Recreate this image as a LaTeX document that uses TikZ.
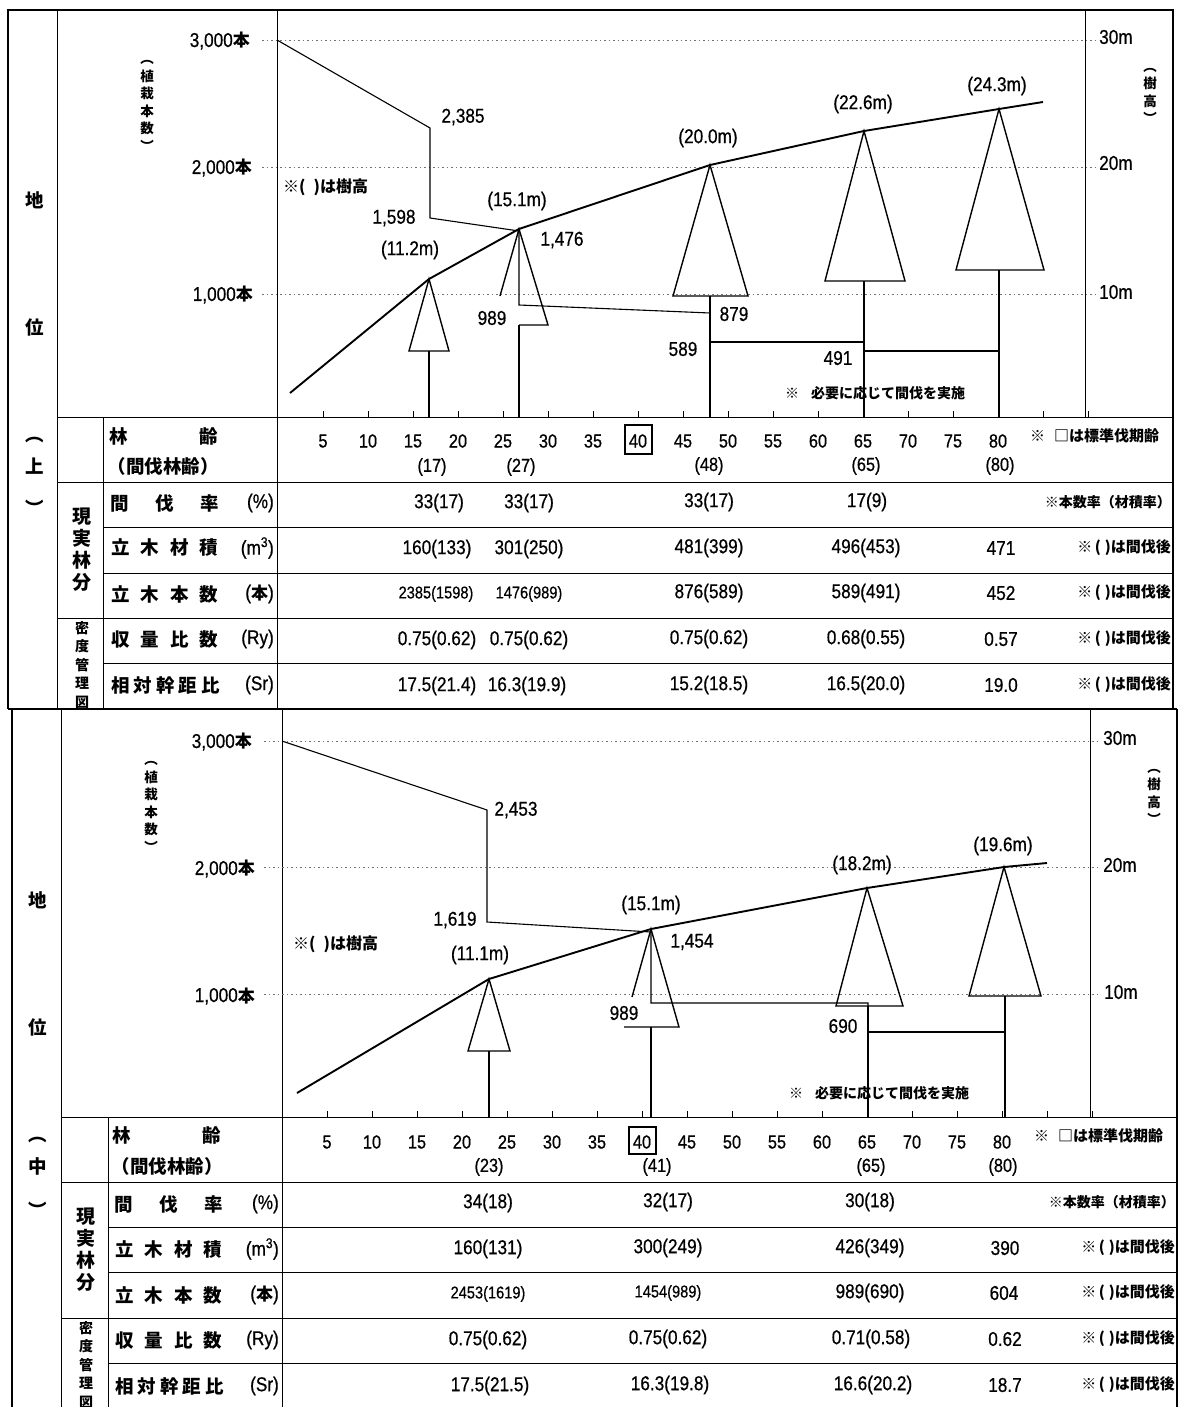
\documentclass[tikz,border=0pt]{standalone}
\usepackage{fontspec}
\setmainfont{Liberation Sans}
\newfontfamily\numf{Liberation Sans}[FakeStretch=0.86, FakeBold=0.6]
\newfontfamily\jp{Noto Sans CJK JP}
\newcommand\hon{{\jp\bfseries\fontsize{17}{17}\selectfont 本}}
\begin{document}
\begin{tikzpicture}[x=1pt,y=-1pt,
  lbl/.style={inner sep=0pt, font=\numf\fontsize{20}{20}\selectfont},
  tv/.style={inner sep=0pt, font=\numf\fontsize{20}{20}\selectfont},
  tvs/.style={inner sep=0pt, font=\numf\fontsize{17}{17}\selectfont},
  age/.style={inner sep=0pt, font=\numf\fontsize{19}{19}\selectfont},
  jpt/.style={inner sep=0pt, font=\jp\bfseries\fontsize{18.5}{18.5}\selectfont},
  jpn/.style={inner sep=0pt, font=\jp\bfseries\fontsize{15}{15}\selectfont},
  jpm/.style={inner sep=0pt, font=\jp\bfseries\fontsize{16}{16}\selectfont},
  jps/.style={inner sep=0pt, font=\jp\bfseries\fontsize{14}{14}\selectfont},
  vert/.style={inner sep=0pt, align=center, font=\jp\bfseries\fontsize{13.5}{17.5}\selectfont},
  vgrp/.style={inner sep=0pt, align=center, font=\jp\bfseries\fontsize{19}{22}\selectfont},
  vgrps/.style={inner sep=0pt, align=center, font=\jp\bfseries\fontsize{14}{18.5}\selectfont},
  gridl/.style={black!55, line width=0.7pt, dash pattern=on 1.5pt off 3pt},
  frame/.style={line width=2.2pt},
  rule/.style={line width=0.9pt},
  hcurve/.style={line width=1.9pt, line join=round},
  dens/.style={line width=1.1pt, line join=miter},
  tree/.style={line width=1.4pt, line join=miter},
]
\fill[white] (0,0) rectangle (1182,1407);
\useasboundingbox (0,0) rectangle (1182,1407);

% ================= frame =================
\draw[frame] (8,10) -- (1173,10);
\draw[frame] (8,9) -- (8,709);
\draw[frame] (1173,9) -- (1173,709);
\draw[frame] (8,709) -- (1177,709);
\draw[frame] (12,709) -- (12,1407);
\draw[frame] (1177,709) -- (1177,1407);

% ================= UPPER SECTION =================
\draw[rule] (57,10) -- (57,708);
\draw[rule] (277,10) -- (277,708);
\draw[rule] (1085,10) -- (1085,417);
\draw[rule] (57,417) -- (1173,417);
\draw[rule] (57,482) -- (1173,482);
\draw[rule] (103,417) -- (103,708);
\draw[rule] (103,527) -- (1173,527);
\draw[rule] (103,573) -- (1173,573);
\draw[rule] (57,618) -- (1173,618);
\draw[rule] (103,663) -- (1173,663);

\foreach \yy in {40,167,294} \draw[gridl] (262,\yy) -- (1097,\yy);
\foreach \k in {1,...,18} \draw[rule] ({278+45*\k},417) -- ++(0,-6);

\node[lbl, anchor=east] (u3000) at (250,41) {3,000\hon};
\node[lbl, anchor=east] (u2000) at (252,168) {2,000\hon};
\node[lbl, anchor=east] (u1000) at (253,295) {1,000\hon};
\node[lbl, anchor=west] (u30m) at (1099,37) {30m};
\node[lbl, anchor=west] (u20m) at (1099,163) {20m};
\node[lbl, anchor=west] (u10m) at (1099,292) {10m};
\node[vert] (uvl) at (147,106) {︵\\植\\栽\\本\\数\\︶};
\node[vert] (uvr) at (1150,96) {︵\\樹\\高\\︶};

\node[jpt] (uchi) at (35,200) {地};
\node[jpt] (ui) at (35,327) {位};
\node[jpt] (up1) at (35,440) {︵};
\node[jpt] (uue) at (35,466) {上};
\node[jpt] (up2) at (35,508) {︶};

\coordinate (uh0) at (290,393);
\coordinate (ua17) at (429,279);
\coordinate (ua27) at (519,229);
\coordinate (ua48) at (710,165);
\coordinate (ua65) at (864,131);
\coordinate (ua80) at (999,109);
\coordinate (uh1) at (1043,102);
\draw[hcurve] (uh0) -- (ua17) -- (ua27) -- (ua48) -- (ua65) -- (ua80) -- (uh1);

\draw[tree] (ua17) -- (409,351) -- (449,351) -- cycle;
\draw[tree] (429,351) -- (429,417);
\draw[tree] (500,296) -- (ua27) -- (548,325) -- (519,325);
\draw[tree] (519,325) -- (519,417);
\draw[tree] (ua48) -- (673,296) -- (748,296) -- cycle;
\draw[tree] (710,296) -- (710,417);
\draw[tree] (ua65) -- (825,281) -- (905,281) -- cycle;
\draw[tree] (864,281) -- (864,417);
\draw[tree] (ua80) -- (956,270) -- (1044,270) -- cycle;
\draw[tree] (999,270) -- (999,417);

\coordinate (ud0) at (277,40);
\draw[dens] (ud0) -- (430,128) -- (430,218) -- (519,231) -- (519,305) -- (710,313);
\draw[dens] (710,342) -- (864,342);
\draw[dens] (864,351) -- (999,351);

\node[lbl] (u2385) at (463,117) {2,385};
\node[lbl] (u1598) at (394,218) {1,598};
\node[lbl] (u112) at (410,250) {(11.2m)};
\node[lbl] (u151) at (517,201) {(15.1m)};
\node[lbl] (u1476) at (562,240) {1,476};
\node[lbl] (u989) at (492,318) {989};
\node[lbl] (u879) at (734,314) {879};
\node[lbl] (u589) at (683,349) {589};
\node[lbl] (u491) at (838,358) {491};
\node[lbl] (u200) at (708,138) {(20.0m)};
\node[lbl] (u226) at (863,104) {(22.6m)};
\node[lbl] (u243) at (997,86) {(24.3m)};
\node[jpm, anchor=west] (unote1) at (283,187) {※(\hspace{8pt})は樹高};
\node[jps] (unote2) at (875,393) {※\hspace{12pt}必要に応じて間伐を実施};

\node[jpt] (urin) at (119,436) {林};
\node[jpt] (urei) at (209,436) {齢};
\node[jpt] (ukan) at (163,466) {（間伐林齢）};
\foreach \a [count=\i] in {5,10,...,80} \node[age] (uag\i) at ({278+9*\a},441) {\a};
\draw[line width=1.5pt] (625,425) rectangle (652,454);
\node[age] (uag17) at (432,467) {(17)};
\node[age] (uag27) at (521,467) {(27)};
\node[age] (uag48) at (709,466) {(48)};
\node[age] (uag65) at (866,466) {(65)};
\node[age] (uag80) at (1000,466) {(80)};
\node[jpn, anchor=west] (ustd) at (1030,436) {※\hspace{9pt}□は標準伐期齢};

\node[jpt, anchor=west] (ul2) at (110,503) {間\hspace{27pt}伐\hspace{26pt}率};
\node[lbl, anchor=east] (ul2u) at (274,503) {(\%)};
\node[jpt, anchor=west] (ul3) at (111,548) {立\hspace{11pt}木\hspace{11pt}材\hspace{11pt}積};
\node[lbl, anchor=east] (ul3u) at (274,548) {(m\textsuperscript{3})};
\node[jpt, anchor=west] (ul4) at (111,594) {立\hspace{11pt}木\hspace{11pt}本\hspace{11pt}数};
\node[lbl, anchor=east] (ul4u) at (274,594) {(\hon)};
\node[jpt, anchor=west] (ul5) at (111,639) {収\hspace{11pt}量\hspace{11pt}比\hspace{11pt}数};
\node[lbl, anchor=east] (ul5u) at (274,639) {(Ry)};
\node[jpt, anchor=west] (ul6) at (111,685) {相\hspace{4pt}対\hspace{4pt}幹\hspace{4pt}距\hspace{4pt}比};
\node[lbl, anchor=east] (ul6u) at (274,685) {(Sr)};
\node[vgrp] (ugrp1) at (82,550) {現\\実\\林\\分};
\node[vgrps] (ugrp2) at (82,665) {密\\度\\管\\理\\図};

\node[tv] (ur2a) at (439,503) {33(17)};
\node[tv] (ur2b) at (529,503) {33(17)};
\node[tv] (ur2c) at (709,502) {33(17)};
\node[tv] (ur2d) at (867,502) {17(9)};
\node[jps, anchor=east] (ur2n) at (1171,502) {※本数率（材積率）};

\node[tv] (ur3a) at (437,549) {160(133)};
\node[tv] (ur3b) at (529,549) {301(250)};
\node[tv] (ur3c) at (709,548) {481(399)};
\node[tv] (ur3d) at (866,548) {496(453)};
\node[tv] (ur3e) at (1001,548) {471};
\node[jpn, anchor=east] (ur3n) at (1171,548) {※\,(\hspace{4pt})は間伐後};

\node[tvs] (ur4a) at (436,594) {2385(1598)};
\node[tvs] (ur4b) at (529,594) {1476(989)};
\node[tv] (ur4c) at (709,593) {876(589)};
\node[tv] (ur4d) at (866,593) {589(491)};
\node[tv] (ur4e) at (1001,593) {452};
\node[jpn, anchor=east] (ur4n) at (1171,593) {※\,(\hspace{4pt})は間伐後};

\node[tv] (ur5a) at (437,640) {0.75(0.62)};
\node[tv] (ur5b) at (529,640) {0.75(0.62)};
\node[tv] (ur5c) at (709,639) {0.75(0.62)};
\node[tv] (ur5d) at (866,639) {0.68(0.55)};
\node[tv] (ur5e) at (1001,639) {0.57};
\node[jpn, anchor=east] (ur5n) at (1171,639) {※\,(\hspace{4pt})は間伐後};

\node[tv] (ur6a) at (437,686) {17.5(21.4)};
\node[tv] (ur6b) at (527,686) {16.3(19.9)};
\node[tv] (ur6c) at (709,685) {15.2(18.5)};
\node[tv] (ur6d) at (866,685) {16.5(20.0)};
\node[tv] (ur6e) at (1001,685) {19.0};
\node[jpn, anchor=east] (ur6n) at (1171,685) {※\,(\hspace{4pt})は間伐後};

% ================= LOWER SECTION =================
\draw[rule] (61,709) -- (61,1407);
\draw[rule] (282,709) -- (282,1407);
\draw[rule] (1090,709) -- (1090,1117);
\draw[rule] (61,1117) -- (1177,1117);
\draw[rule] (61,1182) -- (1177,1182);
\draw[rule] (108,1117) -- (108,1407);
\draw[rule] (108,1227) -- (1177,1227);
\draw[rule] (108,1272) -- (1177,1272);
\draw[rule] (61,1318) -- (1177,1318);
\draw[rule] (108,1363) -- (1177,1363);

\foreach \yy in {741,867,994} \draw[gridl] (264,\yy) -- (1101,\yy);
\foreach \k in {1,...,18} \draw[rule] ({282+45*\k},1117) -- ++(0,-6);

\node[lbl, anchor=east] (l3000) at (252,742) {3,000\hon};
\node[lbl, anchor=east] (l2000) at (255,869) {2,000\hon};
\node[lbl, anchor=east] (l1000) at (255,996) {1,000\hon};
\node[lbl, anchor=west] (l30m) at (1103,738) {30m};
\node[lbl, anchor=west] (l20m) at (1103,865) {20m};
\node[lbl, anchor=west] (l10m) at (1104,992) {10m};
\node[vert] (lvl) at (151,807) {︵\\植\\栽\\本\\数\\︶};
\node[vert] (lvr) at (1154,797) {︵\\樹\\高\\︶};

\node[jpt] (lchi) at (38,900) {地};
\node[jpt] (li) at (38,1027) {位};
\node[jpt] (lp1) at (38,1140) {︵};
\node[jpt] (lnaka) at (38,1166) {中};
\node[jpt] (lp2) at (38,1210) {︶};

\coordinate (lh0) at (297,1093);
\coordinate (la23) at (489,979);
\coordinate (la41) at (651,929);
\coordinate (la65) at (867,888);
\coordinate (la80) at (1004,867);
\coordinate (lh1) at (1047,863);
\draw[hcurve] (lh0) -- (la23) -- (la41) -- (la65) -- (la80) -- (lh1);

\draw[tree] (la23) -- (468,1051) -- (510,1051) -- cycle;
\draw[tree] (489,1051) -- (489,1117);
\draw[tree] (632,997) -- (la41) -- (679,1027) -- (624,1027);
\draw[tree] (651,1027) -- (651,1117);
\draw[tree] (la65) -- (836,1006) -- (903,1006) -- cycle;
\draw[tree] (868,1006) -- (868,1117);
\draw[tree] (la80) -- (969,996) -- (1041,996) -- cycle;
\draw[tree] (1005,996) -- (1005,1117);

\coordinate (ld0) at (282,741);
\draw[dens] (ld0) -- (487,810) -- (487,922) -- (651,932) -- (651,1003) -- (868,1003) -- (868,1006);
\draw[dens] (868,1032) -- (1005,1032);

\node[lbl] (l2453) at (516,810) {2,453};
\node[lbl] (l1619) at (455,920) {1,619};
\node[lbl] (l111) at (480,955) {(11.1m)};
\node[lbl] (l151) at (651,905) {(15.1m)};
\node[lbl] (l1454) at (692,942) {1,454};
\node[lbl] (l989) at (624,1013) {989};
\node[lbl] (l690) at (843,1026) {690};
\node[lbl] (l182) at (862,865) {(18.2m)};
\node[lbl] (l196) at (1003,846) {(19.6m)};
\node[jpm, anchor=west] (lnote1) at (293,944) {※(\hspace{8pt})は樹高};
\node[jps] (lnote2) at (879,1093) {※\hspace{12pt}必要に応じて間伐を実施};

\node[jpt] (lrin) at (122,1135) {林};
\node[jpt] (lrei) at (212,1135) {齢};
\node[jpt] (lkan) at (167,1166) {（間伐林齢）};
\foreach \a [count=\i] in {5,10,...,80} \node[age] (lag\i) at ({282+9*\a},1142) {\a};
\draw[line width=1.5pt] (629,1127) rectangle (656,1154);
\node[age] (lag23) at (489,1167) {(23)};
\node[age] (lag41) at (657,1167) {(41)};
\node[age] (lag65) at (871,1167) {(65)};
\node[age] (lag80) at (1003,1167) {(80)};
\node[jpn, anchor=west] (lstd) at (1034,1136) {※\hspace{9pt}□は標準伐期齢};

\node[jpt, anchor=west] (ll2) at (114,1204) {間\hspace{27pt}伐\hspace{26pt}率};
\node[lbl, anchor=east] (ll2u) at (279,1204) {(\%)};
\node[jpt, anchor=west] (ll3) at (115,1249) {立\hspace{11pt}木\hspace{11pt}材\hspace{11pt}積};
\node[lbl, anchor=east] (ll3u) at (279,1249) {(m\textsuperscript{3})};
\node[jpt, anchor=west] (ll4) at (115,1295) {立\hspace{11pt}木\hspace{11pt}本\hspace{11pt}数};
\node[lbl, anchor=east] (ll4u) at (279,1295) {(\hon)};
\node[jpt, anchor=west] (ll5) at (115,1340) {収\hspace{11pt}量\hspace{11pt}比\hspace{11pt}数};
\node[lbl, anchor=east] (ll5u) at (279,1340) {(Ry)};
\node[jpt, anchor=west] (ll6) at (115,1386) {相\hspace{4pt}対\hspace{4pt}幹\hspace{4pt}距\hspace{4pt}比};
\node[lbl, anchor=east] (ll6u) at (279,1386) {(Sr)};
\node[vgrp] (lgrp1) at (86,1250) {現\\実\\林\\分};
\node[vgrps] (lgrp2) at (86,1365) {密\\度\\管\\理\\図};

\node[tv] (lr2a) at (488,1203) {34(18)};
\node[tv] (lr2b) at (668,1202) {32(17)};
\node[tv] (lr2c) at (870,1202) {30(18)};
\node[jps, anchor=east] (lr2n) at (1175,1202) {※本数率（材積率）};

\node[tv] (lr3a) at (488,1249) {160(131)};
\node[tv] (lr3b) at (668,1248) {300(249)};
\node[tv] (lr3c) at (870,1248) {426(349)};
\node[tv] (lr3e) at (1005,1248) {390};
\node[jpn, anchor=east] (lr3n) at (1175,1248) {※\,(\hspace{4pt})は間伐後};

\node[tvs] (lr4a) at (488,1294) {2453(1619)};
\node[tvs] (lr4b) at (668,1293) {1454(989)};
\node[tv] (lr4c) at (870,1293) {989(690)};
\node[tv] (lr4e) at (1004,1293) {604};
\node[jpn, anchor=east] (lr4n) at (1175,1293) {※\,(\hspace{4pt})は間伐後};

\node[tv] (lr5a) at (488,1340) {0.75(0.62)};
\node[tv] (lr5b) at (668,1339) {0.75(0.62)};
\node[tv] (lr5c) at (871,1339) {0.71(0.58)};
\node[tv] (lr5e) at (1005,1339) {0.62};
\node[jpn, anchor=east] (lr5n) at (1175,1339) {※\,(\hspace{4pt})は間伐後};

\node[tv] (lr6a) at (490,1386) {17.5(21.5)};
\node[tv] (lr6b) at (670,1385) {16.3(19.8)};
\node[tv] (lr6c) at (873,1385) {16.6(20.2)};
\node[tv] (lr6e) at (1005,1385) {18.7};
\node[jpn, anchor=east] (lr6n) at (1175,1385) {※\,(\hspace{4pt})は間伐後};
\end{tikzpicture}
\end{document}
